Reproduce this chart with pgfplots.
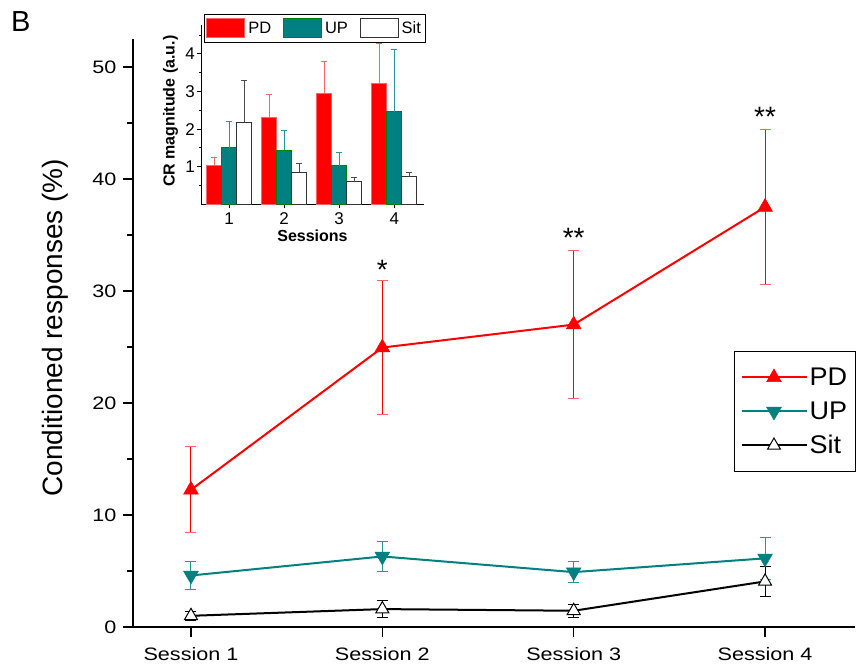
\documentclass[border=0pt]{standalone}
\usepackage{fontspec}
\setmainfont{Liberation Sans}
\newfontfamily\widefont[FakeStretch=1.2]{Liberation Sans}
\newfontfamily\legfont[FakeStretch=1.06]{Liberation Sans}
\usepackage{pgfplots}
\pgfplotsset{compat=1.18}
\definecolor{pdred}{RGB}{255,0,0}
\definecolor{pdlight}{RGB}{255,100,100}
\definecolor{upteal}{RGB}{0,128,128}
\definecolor{uplight}{RGB}{40,150,150}
\definecolor{upgreen}{RGB}{0,128,0}
\pgfplotsset{
  barleg/.style={legend image code/.code={\draw[##1] (0pt,-9.5pt) rectangle (38pt,9.5pt);}},
  lineleg/.style={legend image code/.code={\draw[mark repeat=2,mark phase=2,##1] plot coordinates {(0pt,0pt) (32.5pt,0pt) (65pt,0pt)};}},
}
\begin{document}
\begin{tikzpicture}[x=1pt,y=1pt]
% ---------------- main axis ----------------
\begin{axis}[
  at={(133pt,-627pt)}, anchor=south west,
  scale only axis, width=722pt, height=588pt,
  xmin=0.697, xmax=4.47, ymin=0, ymax=52.5,
  axis x line=bottom, axis y line=left,
  axis line style={-, line width=1.8pt},
  xtick={1,2,3,4}, xticklabels={Session 1,Session 2,Session 3,Session 4},
  ytick={0,10,20,30,40,50}, minor ytick={5,15,25,35,45},
  tick align=outside, major tick length=10pt, minor tick length=6pt,
  every tick/.style={line width=1.5pt, black},
  /pgf/number format/assume math mode=true,
  ticklabel style={font=\widefont\fontsize{18}{21}\selectfont},
  xticklabel style={yshift=-7pt},
  yticklabel style={xshift=-3pt},
  ylabel={Conditioned responses (\%)},
  ylabel style={font=\fontsize{28}{32}\selectfont, at={(axis description cs:-0.107,0.509)}, anchor=center},
  clip=false,
  legend style={at={(axis description cs:0.8324,0.4694)}, anchor=north west,
    draw=black, line width=1pt, fill=white, font=\legfont\fontsize{25.5}{28}\selectfont,
    inner xsep=6pt, inner ysep=14pt, row sep=10pt,
    nodes={text height=18pt, text depth=2pt, inner sep=2pt}},
  legend cell align=left,
]
\addplot+[pdred, line width=2pt, mark=triangle*, mark size=8.5pt, lineleg,
  mark options={fill=pdred, draw=pdred, line width=0.5pt},
  error bars/.cd, y dir=both, y explicit,
  error bar style={pdred, line width=1pt},
  error mark options={rotate=90, mark size=5.5pt, line width=1pt, pdlight}]
  coordinates {(1,12.25) +- (0,3.85) (2,24.95) +- (0,5.95) (3,27.0) +- (0,6.6) (4,37.5) +- (0,6.9)};
\addlegendentry{PD}
\addplot+[upteal, line width=2pt, mark=triangle*, mark size=8.5pt, lineleg,
  mark options={fill=upteal, draw=upteal, rotate=180, line width=0.5pt},
  error bars/.cd, y dir=both, y explicit,
  error bar style={uplight, line width=1pt},
  error mark options={rotate=90, mark size=5.5pt, line width=1pt, uplight}]
  coordinates {(1,4.6) +- (0,1.25) (2,6.3) +- (0,1.35) (3,4.9) +- (0,0.95) (4,6.13) +- (0,1.87)};
\addlegendentry{UP}
\addplot+[black, line width=2pt, mark=triangle*, mark size=7.5pt, lineleg,
  mark options={fill=white, draw=black, line width=1pt},
  error bars/.cd, y dir=both, y explicit,
  error bar style={black, line width=1pt},
  error mark options={rotate=90, mark size=5.5pt, line width=1pt, black}]
  coordinates {(1,1.0) +- (0,0.4) (2,1.6) +- (0,0.75) (3,1.45) +- (0,0.6) (4,4.07) +- (0,1.37)};
\addlegendentry{Sit}
\node[anchor=base, font=\fontsize{28}{30}\selectfont, inner sep=0pt] at (axis cs:2,31.0) {*};
\node[anchor=base, font=\fontsize{28}{30}\selectfont, inner sep=0pt] at (axis cs:3,33.9) {**};
\node[anchor=base, font=\fontsize{28}{30}\selectfont, inner sep=0pt] at (axis cs:4,44.7) {**};
\end{axis}
% ---------------- inset ----------------
\begin{axis}[
  at={(201pt,-204.3pt)}, anchor=south west,
  scale only axis, width=223pt, height=179pt,
  xmin=0.49, xmax=4.54, ymin=0, ymax=4.76,
  ybar=0pt, bar width=15pt,
  axis x line=bottom, axis y line=left,
  axis line style={-, line width=1pt},
  xtick={1,2,3,4}, ytick={1,2,3,4}, minor ytick={0.5,1.5,2.5,3.5,4.5},
  tick align=outside, major tick length=4pt, minor tick length=2.5pt,
  every tick/.style={line width=0.8pt, black},
  /pgf/number format/assume math mode=true,
  ticklabel style={font=\fontsize{17}{20}\selectfont, inner sep=2pt},
  xticklabel style={yshift=-2pt},
  xlabel={\bfseries Sessions},
  ylabel={\bfseries CR magnitude (a.u.)},
  xlabel style={font=\fontsize{16}{19}\selectfont, at={(axis description cs:0.5,-0.178)}, anchor=center},
  ylabel style={font=\fontsize{16}{19}\selectfont, at={(axis description cs:-0.137,0.52)}, anchor=center},
  legend columns=3,
  legend style={at={(axis description cs:0.51,1.063)}, anchor=north,
    draw=black, line width=0.8pt, fill=white, font=\fontsize{16.5}{19}\selectfont,
    inner xsep=2pt, inner ysep=4pt,
    /tikz/every odd column/.append style={column sep=1pt},
    /tikz/every even column/.append style={column sep=10pt}},
]
\addplot[fill=pdred, draw=pdlight, line width=0.8pt, barleg,
  error bars/.cd, y dir=plus, y explicit,
  error bar style={pdlight, line width=0.8pt},
  error mark options={rotate=90, mark size=3pt, line width=0.8pt, pdlight}]
  coordinates {(1,1.03) +- (0,0.23) (2,2.30) +- (0,0.63) (3,2.95) +- (0,0.86) (4,3.22) +- (0,1.05)};
\addlegendentry{PD}
\addplot[fill=upteal, draw=upgreen, line width=0.8pt, barleg,
  error bars/.cd, y dir=plus, y explicit,
  error bar style={uplight, line width=0.8pt},
  error mark options={rotate=90, mark size=3pt, line width=0.8pt, uplight}]
  coordinates {(1,1.50) +- (0,0.71) (2,1.44) +- (0,0.53) (3,1.03) +- (0,0.36) (4,2.46) +- (0,1.67)};
\addlegendentry{UP}
\addplot[fill=white, draw=black!80, line width=0.8pt, barleg,
  error bars/.cd, y dir=plus, y explicit,
  error bar style={black!70, line width=0.8pt},
  error mark options={rotate=90, mark size=3pt, line width=0.8pt, black!70}]
  coordinates {(1,2.19) +- (0,1.10) (2,0.85) +- (0,0.23) (3,0.60) +- (0,0.11) (4,0.73) +- (0,0.13)};
\addlegendentry{Sit}
\end{axis}
\node[anchor=north west, inner sep=0pt, font=\fontsize{29}{32}\selectfont] at (11pt,-11pt) {B};
\pgfresetboundingbox
\useasboundingbox (0pt,0pt) rectangle (857pt,-669pt);
\end{tikzpicture}
\end{document}
